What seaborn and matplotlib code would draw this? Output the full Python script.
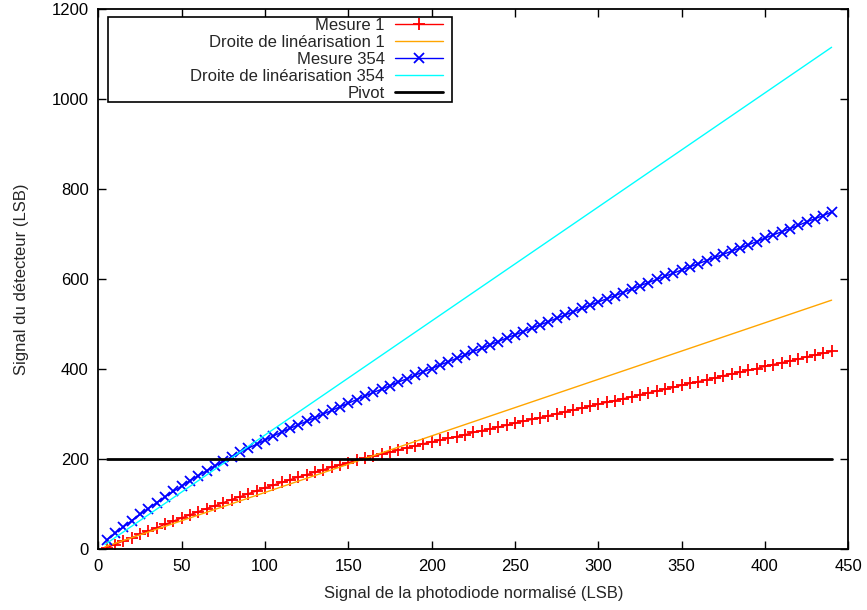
import matplotlib
matplotlib.use("Agg")
import matplotlib.pyplot as plt
from matplotlib.patches import Rectangle
import seaborn as sns

# abscisses des points de mesure (signal photodiode, LSB)
x_mesure = [5, 10, 15, 20, 25, 30, 35, 40, 45, 50,
            55, 60, 65, 70, 75, 80, 85, 90, 95, 100,
            105, 110, 115, 120, 125, 130, 135, 140, 145, 150,
            155, 160, 165, 170, 175, 180, 185, 190, 195, 200,
            205, 210, 215, 220, 225, 230, 235, 240, 245, 250,
            255, 260, 265, 270, 275, 280, 285, 290, 295, 300,
            305, 310, 315, 320, 325, 330, 335, 340, 345, 350,
            355, 360, 365, 370, 375, 380, 385, 390, 395, 400,
            405, 410, 415, 420, 425, 430, 435, 440]

mesure_1 = [3, 10, 18, 25, 33, 40, 47, 55, 62, 69,
            76, 83, 90, 96, 103, 110, 116, 123, 129, 136,
            142, 148, 154, 160, 165, 171, 176, 182, 187, 192,
            197, 202, 206, 211, 215, 220, 225, 229, 234, 238,
            242, 246, 250, 254, 259, 263, 267, 271, 275, 280,
            284, 288, 292, 296, 301, 305, 309, 313, 317, 322,
            326, 330, 334, 338, 343, 347, 351, 355, 359, 364,
            368, 372, 376, 380, 385, 389, 393, 397, 401, 406,
            410, 414, 418, 422, 427, 431, 435, 439]

mesure_354 = [20, 35, 49, 63, 77, 90, 103, 116, 128, 140,
              152, 163, 174, 185, 195, 205, 215, 224, 233, 242,
              251, 260, 268, 276, 284, 292, 300, 308, 316, 324,
              332, 340, 348, 355, 363, 371, 378, 386, 394, 401,
              409, 416, 424, 431, 439, 446, 454, 461, 469, 476,
              483, 491, 498, 505, 513, 520, 527, 535, 542, 549,
              556, 563, 570, 578, 585, 592, 599, 606, 613, 620,
              627, 634, 641, 648, 655, 662, 669, 676, 683, 691,
              698, 705, 712, 719, 727, 734, 741, 749]

# droites de linéarisation et pivot (extrémités)
x_droite = [4, 440]
droite_1 = [5, 553]
droite_354 = [10, 1115]
x_pivot = [5, 440]
pivot = [200, 200]

sns.set_style("ticks")
plt.rcParams['font.family'] = ['Liberation Sans', 'DejaVu Sans']
plt.rcParams['font.size'] = 12

fig = plt.figure(figsize=(8.67, 6.1), dpi=100)
ax = fig.add_axes([0.1134, 0.1, 0.865, 0.8852])

sns.lineplot(x=x_mesure, y=mesure_1, ax=ax, color='#ff0000', lw=1,
             marker='+', markersize=8, markeredgewidth=1.3,
             markeredgecolor='#ff0000', sort=False,
             estimator=None, label='Mesure 1')
sns.lineplot(x=x_droite, y=droite_1, ax=ax, color='#ffa500', lw=1,
             sort=False, estimator=None, label='Droite de linéarisation 1')
sns.lineplot(x=x_mesure, y=mesure_354, ax=ax, color='#0000ff', lw=1,
             marker='x', markersize=7, markeredgewidth=1.3,
             markeredgecolor='#0000ff', sort=False,
             estimator=None, label='Mesure 354')
sns.lineplot(x=x_droite, y=droite_354, ax=ax, color='#00ffff', lw=1,
             sort=False, estimator=None, label='Droite de linéarisation 354')
sns.lineplot(x=x_pivot, y=pivot, ax=ax, color='black', lw=2,
             sort=False, estimator=None, label='Pivot')

ax.set_xlim(0, 450)
ax.set_ylim(0, 1200)
ax.set_xticks(range(0, 451, 50))
ax.set_yticks(range(0, 1201, 200))
ax.tick_params(direction='in', length=6, width=1, top=True, right=True,
               labelsize=12, pad=7, colors='black')
for s in ax.spines.values():
    s.set_linewidth(1.3)
    s.set_color('black')

ax.set_xlabel("Signal de la photodiode normalisé (LSB)", fontsize=12, labelpad=9)
ax.set_ylabel("Signal du détecteur (LSB)", fontsize=12, labelpad=16)

# cadre de légende à la gnuplot (texte aligné à droite)
ax.add_patch(Rectangle((0.0129, 0.8278), 0.4587, 0.1572, transform=ax.transAxes,
                       facecolor='white', edgecolor='black', lw=1.2, zorder=4))
leg = ax.legend(loc='upper right', bbox_to_anchor=(0.4596, 0.983),
                markerfirst=False, frameon=False, fontsize=12,
                labelspacing=0.12, handlelength=2.9, borderpad=0,
                borderaxespad=0, handletextpad=0.6)
leg.set_zorder(5)

fig.savefig('out.png', dpi=100)
